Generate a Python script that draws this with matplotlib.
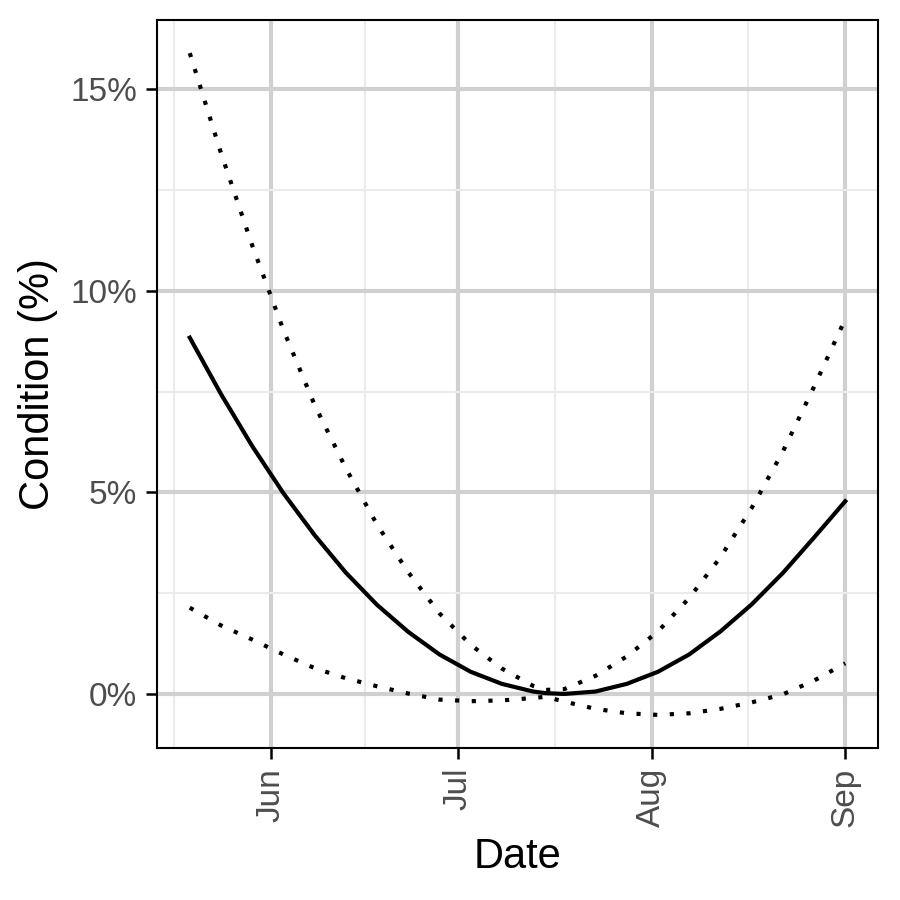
import numpy as np
import pandas as pd
import matplotlib
matplotlib.use("Agg")
import matplotlib.pyplot as plt
import matplotlib.dates as mdates
from matplotlib.ticker import FixedLocator, FuncFormatter

plt.rcParams['font.family'] = ['Liberation Sans', 'DejaVu Sans']

# values (percent)
dates = ['2021-05-19', '2021-05-24', '2021-05-29', '2021-06-03', '2021-06-08',
         '2021-06-13', '2021-06-18', '2021-06-23', '2021-06-28', '2021-07-03',
         '2021-07-08', '2021-07-13', '2021-07-15', '2021-07-18', '2021-07-23',
         '2021-07-28', '2021-08-02', '2021-08-07', '2021-08-12', '2021-08-17',
         '2021-08-22', '2021-08-27', '2021-09-01']
fit = [8.84, 7.44, 6.15, 4.98, 3.94, 3.01, 2.21, 1.54, 0.98, 0.55, 0.25, 0.06,
       0.02, 0.00, 0.06, 0.25, 0.55, 0.98, 1.55, 2.22, 3.00, 3.88, 4.78]
upper = [15.9, 13.42, 11.13, 9.03, 7.17, 5.60, 4.20, 3.02, 2.00, 1.22, 0.63,
         0.20, 0.10, 0.12, 0.45, 0.93, 1.55, 2.38, 3.39, 4.61, 6.01, 7.62, 9.30]
lower = [2.14, 1.70, 1.35, 0.98, 0.64, 0.39, 0.19, 0.01, -0.14, -0.18, -0.16,
         -0.10, -0.07, -0.19, -0.37, -0.48, -0.52, -0.48, -0.37, -0.21, -0.01,
         0.33, 0.76]

month_breaks = ['2021-05-01', '2021-06-01', '2021-07-01', '2021-08-01', '2021-09-01']
y_breaks = [0, 5, 10, 15]

df = pd.DataFrame({'date': pd.to_datetime(dates), 'fit': fit,
                   'upper': upper, 'lower': lower})

fig, ax = plt.subplots(figsize=(3, 3), dpi=300)
fig.subplots_adjust(left=157/900, right=878/900, bottom=1-748/900, top=1-20/900)

ax.plot(df['date'], df['upper'], color='black', lw=1.0, linestyle=(0, (1, 3)))
ax.plot(df['date'], df['lower'], color='black', lw=1.0, linestyle=(0, (1, 3)))
ax.plot(df['date'], df['fit'], color='black', lw=1.0, solid_joinstyle='round')
ax.margins(0.05)

# ticks and grid, ggplot theme_bw-like
mb = mdates.date2num(pd.to_datetime(month_breaks))
ax.xaxis.set_major_locator(FixedLocator(mb[1:]))
ax.xaxis.set_minor_locator(FixedLocator((mb[:-1] + mb[1:]) / 2))
ax.xaxis.set_major_formatter(mdates.DateFormatter('%b'))
ax.yaxis.set_major_locator(FixedLocator(y_breaks))
ax.yaxis.set_minor_locator(FixedLocator([2.5, 7.5, 12.5]))
ax.yaxis.set_major_formatter(FuncFormatter(lambda v, p: f'{v:.0f}%'))

ax.grid(which='major', color='#d0d0d0', lw=1.0)
ax.grid(which='minor', color='#ebebeb', lw=0.5)
ax.set_axisbelow(True)
ax.tick_params(which='major', length=2.75, width=0.6, color='black',
               labelsize=8, labelcolor='#4d4d4d', pad=2)
ax.tick_params(which='minor', length=0)
plt.setp(ax.get_xticklabels(), rotation=90, ha='center', va='top')
for s in ax.spines.values():
    s.set_linewidth(0.5)
    s.set_color('black')

ax.set_xlabel('Date', fontsize=10, labelpad=2.5)
ax.set_ylabel('Condition (%)', fontsize=10, labelpad=3)

fig.savefig('out.png', dpi=300)
